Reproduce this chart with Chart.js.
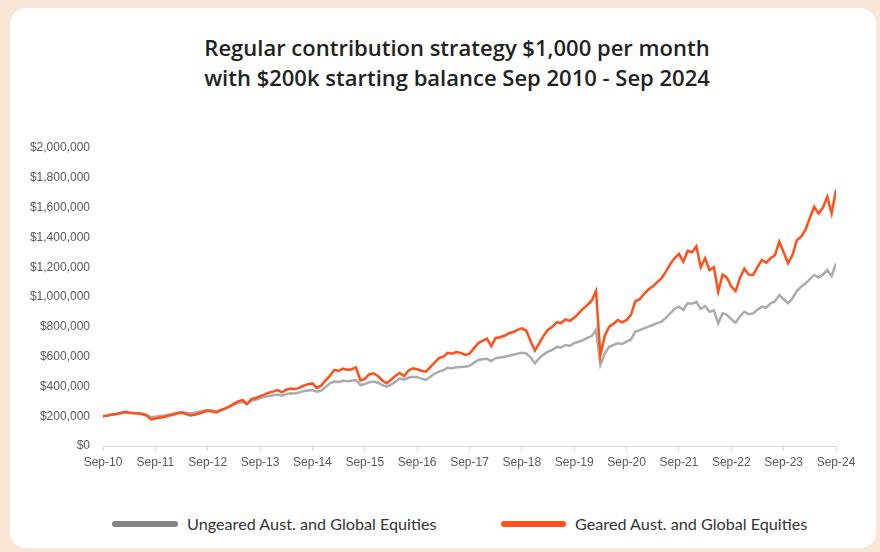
<!DOCTYPE html>
<html>
<head>
<meta charset="utf-8">
<script src="https://cdn.jsdelivr.net/npm/chart.js@4.4.1/dist/chart.umd.min.js"></script>
<style>
  html, body { margin: 0; padding: 0; }
  body { width: 880px; height: 552px; background: #FAE6D7; position: relative; overflow: hidden; font-family: Lato, "Open Sans", sans-serif; }
  #card { position: absolute; left: 10px; top: 8px; width: 866px; height: 540px; background: #ffffff; border-radius: 16px; }
  #title { position: absolute; left: 57px; top: 32px; width: 800px; text-align: center; font-family: "Open Sans", Lato, sans-serif; font-size: 22px; line-height: 30px; font-weight: 600; color: #222222; letter-spacing: 0px; }
  #chartwrap { position: absolute; left: 0; top: 130px; width: 880px; height: 350px; }
  .leg { position: absolute; top: 512px; height: 24px; font-size: 16.2px; line-height: 24px; color: #333333; }
  .leg .sw { position: absolute; top: 9px; height: 6px; border-radius: 3px; }
</style>
</head>
<body>
<div id="card"></div>
<div id="title">Regular contribution strategy $1,000 per month<br>with $200k starting balance Sep 2010 - Sep 2024</div>
<div id="chartwrap"><canvas id="c" width="880" height="350"></canvas></div>
<div class="leg" style="left:112px;"><span class="sw" style="left:0;width:66px;background:#858585;"></span><span style="position:absolute;left:75px;white-space:nowrap;">Ungeared Aust. and Global Equities</span></div>
<div class="leg" style="left:501px;"><span class="sw" style="left:0;width:65px;background:#FF5019;"></span><span style="position:absolute;left:74px;white-space:nowrap;">Geared Aust. and Global Equities</span></div>
<script>
// Monthly values (in $k), Sep 2010 ... Sep 2024
const xTickLabels = ["Sep-10","Sep-11","Sep-12","Sep-13","Sep-14","Sep-15","Sep-16","Sep-17","Sep-18","Sep-19","Sep-20","Sep-21","Sep-22","Sep-23","Sep-24"];
const seriesNames = ["Geared Aust. and Global Equities", "Ungeared Aust. and Global Equities"];
const geared = [
200,205,212,215,222,230,225,222,220,215,205,178,
185,190,195,203,210,218,224,215,205,210,218,228,
237,232,226,240,252,265,285,300,309,282,315,322,
335,345,358,365,375,360,378,385,382,390,405,415,
420,390,405,440,470,510,505,520,510,515,528,440,
450,480,488,470,440,421,445,470,490,470,505,521,
515,505,499,530,560,590,600,625,620,630,625,611,
620,655,690,705,720,670,725,730,740,755,765,780,
790,775,705,640,690,740,780,800,830,825,850,840,
860,890,920,945,975,1040,610,740,800,820,845,830,
846,880,970,985,1020,1050,1070,1100,1125,1170,1220,1260,
1290,1237,1310,1300,1340,1200,1260,1180,1200,1035,1150,1130,
1070,1040,1130,1190,1150,1148,1200,1248,1230,1260,1280,1371,
1300,1226,1280,1380,1405,1450,1530,1606,1560,1600,1673,1560,
1720];
const ungeared = [
200,204,210,213,219,225,222,220,218,215,208,193,
197,201,205,210,216,223,228,224,219,223,230,236,
242,238,232,242,251,262,278,290,295,282,303,310,
322,328,335,340,345,338,348,354,352,360,368,373,
376,365,371,395,420,432,430,438,435,438,443,409,
415,428,432,425,410,398,412,430,454,445,458,465,
462,452,443,465,485,499,508,525,522,528,530,532,
538,558,577,582,585,570,590,594,599,606,612,620,
626,622,595,555,590,615,633,645,665,662,678,672,
690,700,711,725,738,778,545,620,666,678,690,685,
700,715,767,778,790,801,812,825,834,860,890,920,
935,913,958,955,968,920,940,901,910,823,890,880,
850,827,870,901,885,890,915,935,928,958,970,1013,
985,958,990,1040,1069,1090,1120,1148,1130,1150,1181,1140,
1225];
const yMin = 0, yMax = 2000000, yStep = 200000;

const toPts = arr => arr.map((v, i) => ({ x: i, y: v * 1000 }));

new Chart(document.getElementById('c'), {
  type: 'line',
  data: {
    datasets: [
      { label: seriesNames[0], data: toPts(geared), borderColor: '#FF5019', borderWidth: 2.5, pointRadius: 0, tension: 0, fill: false },
      { label: seriesNames[1], data: toPts(ungeared), borderColor: '#ABABAB', borderWidth: 2.5, pointRadius: 0, tension: 0, fill: false }
    ]
  },
  options: {
    responsive: false,
    animation: false,
    layout: { padding: { top: 18, right: 44, bottom: 4, left: 0 } },
    plugins: { legend: { display: false }, tooltip: { enabled: false }, title: { display: false } },
    scales: {
      x: {
        type: 'linear', min: 0, max: (xTickLabels.length - 1) * 12,
        afterFit: s => { s.height = 30; },
        grid: { display: true, drawOnChartArea: false, drawTicks: true, tickLength: 5, color: '#D9D9D9' },
        border: { display: true, color: '#D9D9D9', width: 1 },
        ticks: {
          stepSize: 12, autoSkip: false, maxRotation: 0, padding: 4,
          color: '#595959', font: { family: '"Liberation Sans", Arial, sans-serif', size: 12 },
          callback: v => xTickLabels[Math.round(v / 12)] || ''
        }
      },
      y: {
        min: yMin, max: yMax,
        afterFit: s => { s.width = 103; },
        grid: { display: false },
        border: { display: false },
        ticks: {
          stepSize: yStep, padding: 5,
          color: '#595959', font: { family: '"Liberation Sans", Arial, sans-serif', size: 12 },
          callback: v => '$' + Number(v).toLocaleString('en-US')
        }
      }
    }
  }
});
</script>
</body>
</html>
